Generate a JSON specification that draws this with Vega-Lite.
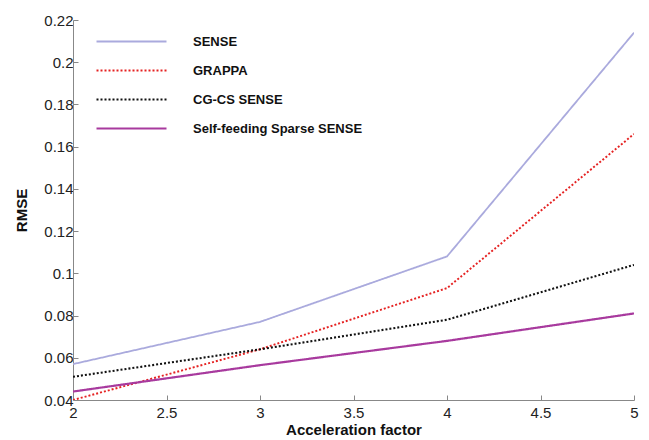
{
  "$schema": "https://vega.github.io/schema/vega-lite/v6.json",
  "width": 561,
  "height": 380,
  "autosize": "none",
  "padding": {"left": 73, "top": 20, "right": 15, "bottom": 40},
  "background": "white",
  "config": {
    "view": {"stroke": null},
    "font": "Liberation Sans",
    "axis": {"grid": false, "domainColor": "#888888", "tickColor": "#888888", "labelColor": "#222222", "titleColor": "#111111", "labelFontSize": 15, "titleFontSize": 15, "titleFontWeight": "bold", "labelFont": "Liberation Sans", "titleFont": "Liberation Sans"}
  },
  "data": {
    "values": [
      {"factor": 2, "rmse": 0.057, "method": "SENSE"},
      {"factor": 3, "rmse": 0.077, "method": "SENSE"},
      {"factor": 4, "rmse": 0.108, "method": "SENSE"},
      {"factor": 5, "rmse": 0.214, "method": "SENSE"},
      {"factor": 2, "rmse": 0.040, "method": "GRAPPA"},
      {"factor": 3, "rmse": 0.064, "method": "GRAPPA"},
      {"factor": 4, "rmse": 0.093, "method": "GRAPPA"},
      {"factor": 5, "rmse": 0.166, "method": "GRAPPA"},
      {"factor": 2, "rmse": 0.051, "method": "CG-CS SENSE"},
      {"factor": 3, "rmse": 0.064, "method": "CG-CS SENSE"},
      {"factor": 4, "rmse": 0.078, "method": "CG-CS SENSE"},
      {"factor": 5, "rmse": 0.104, "method": "CG-CS SENSE"},
      {"factor": 2, "rmse": 0.044, "method": "Self-feeding Sparse SENSE"},
      {"factor": 3, "rmse": 0.0565, "method": "Self-feeding Sparse SENSE"},
      {"factor": 4, "rmse": 0.068, "method": "Self-feeding Sparse SENSE"},
      {"factor": 5, "rmse": 0.081, "method": "Self-feeding Sparse SENSE"}
    ]
  },
  "mark": {"type": "line", "clip": true},
  "encoding": {
    "x": {
      "field": "factor", "type": "quantitative",
      "scale": {"domain": [2, 5], "nice": false, "zero": false},
      "axis": {"values": [2, 2.5, 3, 3.5, 4, 4.5, 5], "format": ".1~f", "title": "Acceleration factor", "tickSize": -5, "labelPadding": 10, "titlePadding": 2, "labelFlush": false, "labelOverlap": false}
    },
    "y": {
      "field": "rmse", "type": "quantitative",
      "scale": {"domain": [0.04, 0.22], "nice": false, "zero": false},
      "axis": {"values": [0.04, 0.06, 0.08, 0.1, 0.12, 0.14, 0.16, 0.18, 0.2, 0.22], "format": ".2~f", "title": "RMSE", "tickSize": -5, "labelPadding": 5, "titlePadding": 14, "labelFlush": false, "labelOverlap": false}
    },
    "color": {
      "field": "method", "type": "nominal",
      "scale": {"domain": ["SENSE", "GRAPPA", "CG-CS SENSE", "Self-feeding Sparse SENSE"], "range": ["#aaaadd", "#e52222", "#111111", "#a83a9e"]},
      "legend": {"title": null, "orient": "none", "legendX": 22, "legendY": 7, "symbolType": "stroke", "symbolSize": 4900, "clipHeight": 29, "labelFontSize": 13, "labelFontWeight": "bold", "labelColor": "#111111", "labelOffset": 25, "labelLimit": 400, "rowPadding": 0, "symbolStrokeWidth": 2}
    },
    "strokeDash": {
      "field": "method", "type": "nominal",
      "scale": {"domain": ["SENSE", "GRAPPA", "CG-CS SENSE", "Self-feeding Sparse SENSE"], "range": [[1, 0], [2, 2], [2, 2], [1, 0]]},
      "legend": null
    },
    "strokeWidth": {
      "field": "method", "type": "nominal",
      "scale": {"domain": ["SENSE", "GRAPPA", "CG-CS SENSE", "Self-feeding Sparse SENSE"], "range": [1.8, 2.2, 2.2, 2.2]},
      "legend": null
    }
  }
}
